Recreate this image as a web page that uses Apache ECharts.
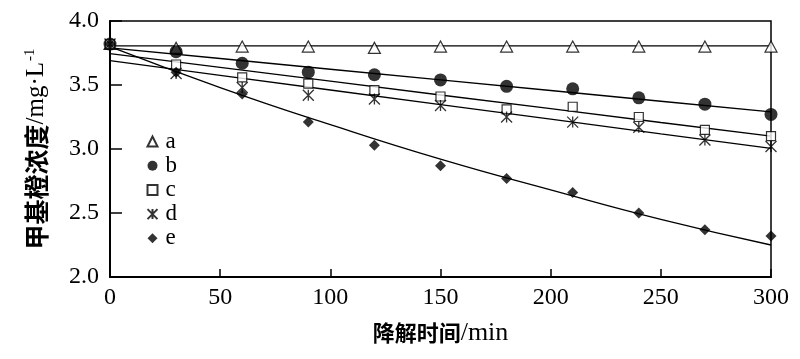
<!DOCTYPE html>
<html><head><meta charset="utf-8">
<script src="https://cdn.jsdelivr.net/npm/echarts@6/dist/echarts.min.js"></script>
<style>html,body{margin:0;padding:0;background:#fff}#c{width:800px;height:359px}</style>
</head><body><div id="c"></div>
<script>
const times = [0, 30, 60, 90, 120, 150, 180, 210, 240, 270, 300];
const seriesNames = ['a', 'b', 'c', 'd', 'e'];
const valuesA = [3.82, 3.79, 3.80, 3.80, 3.79, 3.80, 3.80, 3.80, 3.80, 3.80, 3.80];
const valuesB = [3.82, 3.76, 3.67, 3.60, 3.58, 3.54, 3.49, 3.47, 3.40, 3.35, 3.27];
const valuesC = [3.82, 3.66, 3.56, 3.51, 3.46, 3.41, 3.31, 3.33, 3.25, 3.15, 3.10];
const valuesD = [3.82, 3.59, 3.48, 3.42, 3.39, 3.34, 3.25, 3.21, 3.17, 3.07, 3.02];
const valuesE = [3.82, 3.60, 3.43, 3.21, 3.03, 2.87, 2.77, 2.66, 2.50, 2.37, 2.32];
// fitted lines
const fitTimes = [0, 50, 100, 150, 200, 250, 300];
const fitA = [3.805, 3.805, 3.805, 3.805, 3.805, 3.805, 3.805];
const fitB = [3.79, 3.707, 3.623, 3.54, 3.457, 3.373, 3.29];
const fitC = [3.745, 3.637, 3.53, 3.422, 3.315, 3.207, 3.10];
const fitD = [3.69, 3.576, 3.461, 3.347, 3.233, 3.118, 3.005];
const fitE = [3.80, 3.48, 3.19, 2.92, 2.68, 2.45, 2.25];
const xTicks = [0, 50, 100, 150, 200, 250, 300];
const yTicks = [2.0, 2.5, 3.0, 3.5, 4.0];

const pts = v => times.map((t, i) => [t, v[i]]);
const fit = v => fitTimes.map((t, i) => [t, v[i]]);
const star = 'path://M0,0L10,10M10,0L0,10M5,0L5,10';
const serif = '"Liberation Serif", "Noto Sans CJK SC", serif';

const markers = [
  {symbol: 'triangle', size: [12, 11], fill: '#fff', border: 1.2},
  {symbol: 'circle', size: 13, fill: '#000', border: 0},
  {symbol: 'rect', size: 9, fill: '#fff', border: 1.2},
  {symbol: star, size: [11, 11], fill: 'none', border: 1.3},
  {symbol: 'diamond', size: 11, fill: '#000', border: 0}
];
const allVals = [valuesA, valuesB, valuesC, valuesD, valuesE];
const allFits = [fitA, fitB, fitC, fitD, fitE];

const series = [];
allFits.forEach((f, i) => {
  series.push({type: 'line', data: fit(f), symbol: 'none', smooth: i === 4,
    lineStyle: {color: '#000', width: 1.3}, silent: true, z: 1});
});
allVals.forEach((v, i) => {
  const m = markers[i];
  series.push({name: seriesNames[i], type: 'scatter', data: pts(v), symbol: m.symbol,
    symbolSize: m.size,
    itemStyle: {color: m.fill, borderColor: '#000', borderWidth: m.border}, z: 3 + i});
});

const chart = echarts.init(document.getElementById('c'));
chart.setOption({
  animation: false,
  backgroundColor: '#fff',
  grid: {left: 110, right: 29, top: 21, bottom: 82, show: true, borderColor: '#000', borderWidth: 1.5, backgroundColor: 'transparent'},
  legend: {
    orient: 'vertical', left: 140, top: 125, itemGap: 1.2, itemWidth: 10, itemHeight: 10,
    data: seriesNames.map((n, i) => ({name: n, icon: markers[i].symbol})),
    textStyle: {fontFamily: serif, fontSize: 23, color: '#000', padding: [0, 0, 0, 3]},
    selectedMode: false
  },
  xAxis: {
    type: 'value', min: 0, max: 300, interval: 50,
    name: '{c|降解时间}{l|/min}', nameLocation: 'middle', nameGap: 43,
    nameTextStyle: {rich: {
      c: {fontFamily: '"Noto Sans CJK SC"', fontSize: 22, fontWeight: 'bold', color: '#000'},
      l: {fontFamily: serif, fontSize: 26, color: '#000'}
    }},
    axisLine: {lineStyle: {color: '#000', width: 2}},
    axisTick: {inside: true, length: 8, lineStyle: {color: '#000', width: 1.5}},
    axisLabel: {fontFamily: serif, fontSize: 24, color: '#000', margin: 9},
    splitLine: {show: false}
  },
  yAxis: {
    type: 'value', min: 2.0, max: 4.0, interval: 0.5,
    name: '{n|甲基橙浓度}{l|/mg·L}{s|-1}', nameLocation: 'middle', nameGap: 60,
    nameTextStyle: {rich: {
      n: {fontFamily: '"Noto Sans CJK SC"', fontSize: 25, fontWeight: 'bold', color: '#000'},
      l: {fontFamily: serif, fontSize: 25, color: '#000'},
      s: {fontFamily: serif, fontSize: 15, color: '#000', verticalAlign: 'top', padding: [0, 0, 12, 1]}
    }},
    axisLine: {lineStyle: {color: '#000', width: 2}},
    axisTick: {inside: true, length: 12, lineStyle: {color: '#000', width: 1.5}},
    axisLabel: {fontFamily: serif, fontSize: 24, color: '#000', margin: 11, formatter: v => v.toFixed(1)},
    splitLine: {show: false}
  },
  series: series
});
</script></body></html>
